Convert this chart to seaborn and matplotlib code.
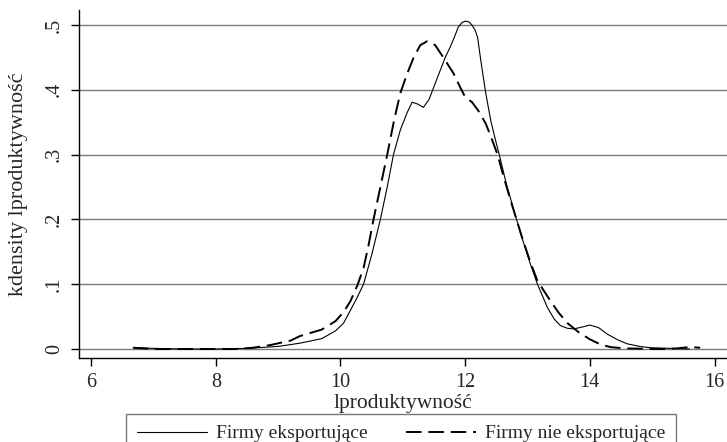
import pandas as pd
import matplotlib
matplotlib.use('Agg')
import matplotlib.pyplot as plt
import seaborn as sns

# Values (kernel density estimates)
x_eksp = [6.7, 7.0, 7.5, 8.0, 8.5, 9.0, 9.35, 9.7, 9.92, 10.05, 10.15, 10.26, 10.37, 10.5,
          10.64, 10.75, 10.85, 10.96, 11.07, 11.15, 11.24, 11.33, 11.42, 11.5, 11.6, 11.68,
          11.76, 11.83, 11.89, 11.95, 12.0, 12.06, 12.11, 12.16, 12.2, 12.25, 12.33, 12.41,
          12.48, 12.56, 12.66, 12.77, 12.9, 13.05, 13.16, 13.32, 13.43, 13.53, 13.64, 13.74,
          13.88, 14.0, 14.14, 14.28, 14.45, 14.6, 14.8, 14.97, 15.3, 15.6]
y_eksp = [0.002, 0.001, 0.0, 0.0, 0.001, 0.004, 0.009, 0.016, 0.028, 0.04, 0.058, 0.078, 0.10, 0.145,
          0.20, 0.25, 0.30, 0.338, 0.365, 0.381, 0.378, 0.373, 0.385, 0.405, 0.43, 0.45,
          0.466, 0.482, 0.497, 0.504, 0.506, 0.505, 0.50, 0.492, 0.481, 0.446, 0.395, 0.353,
          0.325, 0.295, 0.255, 0.218, 0.175, 0.13, 0.10, 0.064, 0.046, 0.036, 0.032, 0.031,
          0.034, 0.037, 0.033, 0.023, 0.014, 0.008, 0.004, 0.002, 0.001, 0.0]

x_nieeksp = [6.67, 7.0, 7.5, 8.0, 8.3, 8.6, 8.87, 9.2, 9.35, 9.7, 9.92, 10.05, 10.16, 10.27,
             10.37, 10.45, 10.53, 10.64, 10.75, 10.86, 10.96, 11.07, 11.17, 11.28, 11.39,
             11.52, 11.65, 11.81, 11.92, 12.0, 12.11, 12.21, 12.33, 12.42, 12.52, 12.62,
             12.73, 12.83, 12.93, 13.05, 13.16, 13.37, 13.5, 13.64, 13.82, 14.0, 14.17, 14.33,
             14.55, 14.8, 15.0, 15.2, 15.4, 15.6, 15.77]
y_nieeksp = [0.002, 0.0, 0.0, 0.0, 0.0, 0.002, 0.006, 0.013, 0.02, 0.03, 0.043, 0.057, 0.074, 0.098,
             0.125, 0.16, 0.20, 0.25, 0.30, 0.353, 0.395, 0.425, 0.449, 0.469, 0.475,
             0.469, 0.45, 0.426, 0.404, 0.389, 0.381, 0.368, 0.348, 0.326, 0.30, 0.265,
             0.229, 0.198, 0.167, 0.133, 0.105, 0.074, 0.056, 0.04, 0.026, 0.015, 0.007, 0.003,
             0.001, 0.0005, 0.0, 0.0, 0.001, 0.003, 0.002]

grupy = ['Firmy eksportujące', 'Firmy nie eksportujące']
y_ticks = [0, 0.1, 0.2, 0.3, 0.4, 0.5]
y_tick_labels = ['0', '.1', '.2', '.3', '.4', '.5']
x_ticks = [6, 8, 10, 12, 14, 16]

df = pd.concat([
    pd.DataFrame({'lproduktywnosc': x_eksp, 'gestosc': y_eksp, 'grupa': grupy[0]}),
    pd.DataFrame({'lproduktywnosc': x_nieeksp, 'gestosc': y_nieeksp, 'grupa': grupy[1]}),
])

sns.set_style('white')
plt.rcParams['font.family'] = ['Liberation Serif', 'DejaVu Serif']

fig = plt.figure(figsize=(7.27, 4.42), dpi=100)
ax = fig.add_axes([0.109, 0.19, 0.891, 0.787])

for yv in y_ticks:
    ax.axhline(yv, color='#7a7a7a', lw=1.0, zorder=0)

sns.lineplot(data=df, x='lproduktywnosc', y='gestosc', hue='grupa', style='grupa',
             palette=['black', 'black'], dashes={grupy[0]: '', grupy[1]: (8, 3.5)},
             size='grupa', sizes={grupy[0]: 0.8, grupy[1]: 1.4},
             sort=False, estimator=None, ax=ax, legend=False)

ax.set_xlim(5.81, 16.2)
ax.set_ylim(-0.0139, 0.523)
ax.set_xticks(x_ticks)
ax.set_yticks(y_ticks)
ax.set_yticklabels(y_tick_labels, rotation=90, va='center')
ax.tick_params(axis='both', length=6, width=1, color='black', labelsize=14.5,
               bottom=True, left=True, direction='out', pad=5)
ax.set_xlabel('lproduktywność', fontsize=15.5, labelpad=1)
ax.set_ylabel('kdensity lproduktywność', fontsize=16, labelpad=12)
sns.despine(ax=ax, top=True, right=True)
for s in ['left', 'bottom']:
    ax.spines[s].set_color('black')
    ax.spines[s].set_linewidth(1.0)

handles = [plt.Line2D([], [], color='black', lw=0.8),
           plt.Line2D([], [], color='black', lw=1.4, dashes=(8, 3.5))]
fig.legend(handles, grupy, loc='upper center', bbox_to_anchor=(0.552, 0.063),
           ncol=2, frameon=True, fancybox=False, edgecolor='#555555',
           fontsize=14, handlelength=3.6, handletextpad=0.45, columnspacing=2.0,
           borderpad=0.55, borderaxespad=0)

fig.savefig('out.png', dpi=100, facecolor='white')
